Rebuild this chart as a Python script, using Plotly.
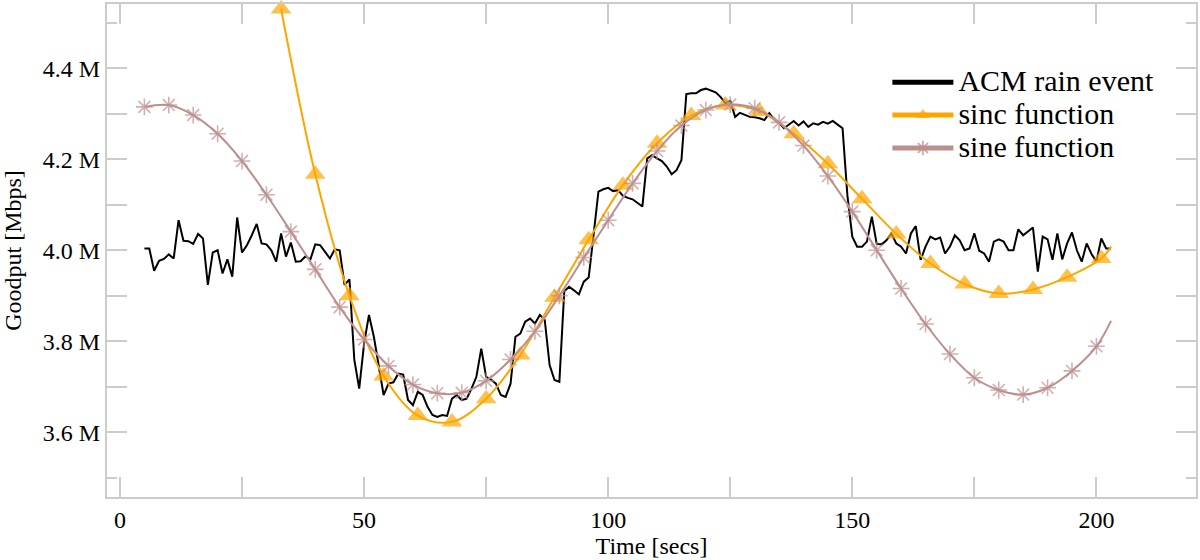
import plotly.graph_objects as go

# ---- data ----
acm_t = list(range(5, 204))
acm_v = [
    4.004, 4.004, 3.955, 3.977, 3.981, 3.991, 3.982, 4.066, 4.021, 4.020,   # 5-14
    4.014, 4.036, 4.026, 3.924, 3.995, 4.000, 3.949, 3.980, 3.942, 4.072,   # 15-24
    3.995, 4.011, 4.033, 4.058, 4.015, 4.013, 4.000, 3.975, 4.037, 3.986,   # 25-34
    4.017, 3.975, 3.976, 3.987, 3.980, 4.013, 4.011, 3.997, 3.982, 4.002,   # 35-44
    4.000, 3.924, 3.936, 3.759, 3.696, 3.795, 3.858, 3.810, 3.744, 3.682,   # 45-54
    3.707, 3.710, 3.729, 3.727, 3.671, 3.660, 3.689, 3.682, 3.656, 3.638,   # 55-64
    3.634, 3.638, 3.636, 3.674, 3.682, 3.671, 3.674, 3.696, 3.722, 3.784,   # 65-74
    3.722, 3.716, 3.707, 3.682, 3.678, 3.707, 3.810, 3.817, 3.843, 3.850,   # 75-84
    3.839, 3.858, 3.847, 3.748, 3.715, 3.711, 3.910, 3.920, 3.912, 3.903,   # 85-94
    3.931, 3.940, 4.033, 4.129, 4.134, 4.137, 4.130, 4.132, 4.120, 4.115,   # 95-104
    4.112, 4.103, 4.096, 4.202, 4.209, 4.202, 4.196, 4.184, 4.167, 4.176,   # 105-114
    4.198, 4.343, 4.345, 4.345, 4.352, 4.355, 4.351, 4.347, 4.337, 4.323,   # 115-124
    4.328, 4.293, 4.302, 4.297, 4.293, 4.292, 4.290, 4.286, 4.301, 4.287,   # 125-134
    4.280, 4.268, 4.276, 4.284, 4.274, 4.283, 4.271, 4.279, 4.276, 4.282,   # 135-144
    4.278, 4.284, 4.276, 4.268, 4.120, 4.030, 4.008, 4.008, 4.019, 4.074,   # 145-154
    4.014, 4.013, 4.022, 4.037, 4.015, 4.008, 3.993, 4.037, 4.053, 3.979,   # 155-164
    4.008, 4.030, 4.024, 4.028, 3.993, 4.008, 4.033, 4.022, 4.000, 4.004,   # 165-174
    4.037, 3.999, 3.993, 3.975, 4.019, 4.024, 4.019, 4.000, 4.000, 4.046,   # 175-184
    4.033, 4.041, 4.050, 3.953, 4.030, 4.024, 3.979, 4.037, 3.980, 4.015,   # 185-194
    4.039, 4.000, 3.975, 4.015, 3.992, 3.975, 4.026, 4.004, 4.004,          # 195-203
]

sinc_t = [33, 40, 47, 54, 61, 68, 75, 82, 89, 96, 103, 110, 117, 124, 131,
          138, 145, 152, 159, 166, 173, 180, 187, 194, 201, 203]
sinc_v = [4.530, 4.167, 3.900, 3.724, 3.637, 3.623, 3.674, 3.770, 3.897, 4.023,
          4.143, 4.235, 4.296, 4.319, 4.305, 4.256, 4.190, 4.113, 4.036, 3.971,
          3.926, 3.905, 3.914, 3.941, 3.982, 4.008]

sine_t = [5, 10, 15, 20, 25, 30, 35, 40, 45, 50, 55, 60, 65, 70, 75, 80, 85,
          90, 95, 100, 105, 110, 115, 120, 125, 130, 135, 140, 145, 150, 155,
          160, 165, 170, 175, 180, 185, 190, 195, 200, 203]
sine_v = [4.315, 4.319, 4.297, 4.256, 4.196, 4.122, 4.041, 3.958, 3.875, 3.804,
          3.746, 3.705, 3.686, 3.687, 3.713, 3.760, 3.822, 3.900, 3.984, 4.066,
          4.147, 4.218, 4.274, 4.308, 4.320, 4.312, 4.281, 4.230, 4.163, 4.085,
          4.000, 3.916, 3.838, 3.772, 3.720, 3.693, 3.683, 3.698, 3.735, 3.789,
          3.845]

series_names = ["ACM rain event", "sinc function", "sine function"]

x_tickvals = [0, 25, 50, 75, 100, 125, 150, 175, 200]
x_ticktext = ["0", "", "50", "", "100", "", "150", "", "200"]
y_tickvals = [3.6, 3.7, 3.8, 3.9, 4.0, 4.1, 4.2, 4.3, 4.4]
y_ticktext = ["3.6 M", "", "3.8 M", "", "4.0 M", "", "4.2 M", "", "4.4 M"]

ORANGE = "#FFA500"
ROSY = "#BC8F8F"
GRAY = "#cccccc"
FONT = "Liberation Serif"


def big(txt):
    return "<span style='font-size:30px'>" + txt + "</span>"


fig = go.Figure()
fig.add_trace(go.Scatter(
    x=acm_t, y=acm_v, mode="lines", name=big(series_names[0]),
    line=dict(color="black", width=2)))
fig.add_trace(go.Scatter(
    x=sinc_t, y=sinc_v, mode="lines+markers", name=big(series_names[1]),
    line=dict(color=ORANGE, width=2, shape="spline", smoothing=1.0),
    marker=dict(symbol="triangle-up", size=[18] * (len(sinc_t) - 1) + [0],
                color=ORANGE, line=dict(width=0)),
    cliponaxis=False))
fig.add_trace(go.Scatter(
    x=sine_t, y=sine_v, mode="lines+markers", name=big(series_names[2]),
    line=dict(color=ROSY, width=2, shape="spline", smoothing=1.0),
    marker=dict(symbol="asterisk-open", size=[14] * (len(sine_t) - 1) + [0],
                color=ROSY, line=dict(color=ROSY, width=1.6))))

axis_common = dict(
    showline=True, linecolor=GRAY, linewidth=2, mirror="ticks",
    ticks="inside", ticklen=20, tickwidth=2, tickcolor=GRAY,
    showgrid=False, zeroline=False,
    tickfont=dict(family=FONT, size=24, color="black"),
)

fig.update_layout(
    width=1200, height=560,
    margin=dict(l=107, r=2, t=4, b=63),
    paper_bgcolor="white", plot_bgcolor="white",
    font=dict(family=FONT, size=24, color="black"),
    legend=dict(x=0.7166, y=0.885, xanchor="left", yanchor="top",
                bgcolor="rgba(0,0,0,0)", font=dict(family=FONT, size=23),
                itemsizing="constant", itemwidth=61, tracegroupgap=0),
    xaxis=dict(range=[-2.66, 220.4], tickmode="array",
               tickvals=x_tickvals, ticktext=x_ticktext,
               minor=dict(ticks="inside", ticklen=10, tickwidth=2,
                          tickcolor=GRAY, dtick=25, tick0=0),
               title=dict(text="Time [secs]", font=dict(family=FONT, size=24),
                          standoff=4),
               **axis_common),
    yaxis=dict(range=[3.458, 4.541], tickmode="array",
               tickvals=y_tickvals, ticktext=y_ticktext,
               minor=dict(ticks="inside", ticklen=10, tickwidth=2,
                          tickcolor=GRAY, dtick=0.1, tick0=3.5),
               title=dict(text="Goodput [Mbps]", font=dict(family=FONT, size=24),
                          standoff=15),
               **axis_common),
)

fig.write_html(
    "out.html",
    config={"displayModeBar": False},
    post_script="document.body.style.margin='0';document.body.style.overflow='hidden';",
)
